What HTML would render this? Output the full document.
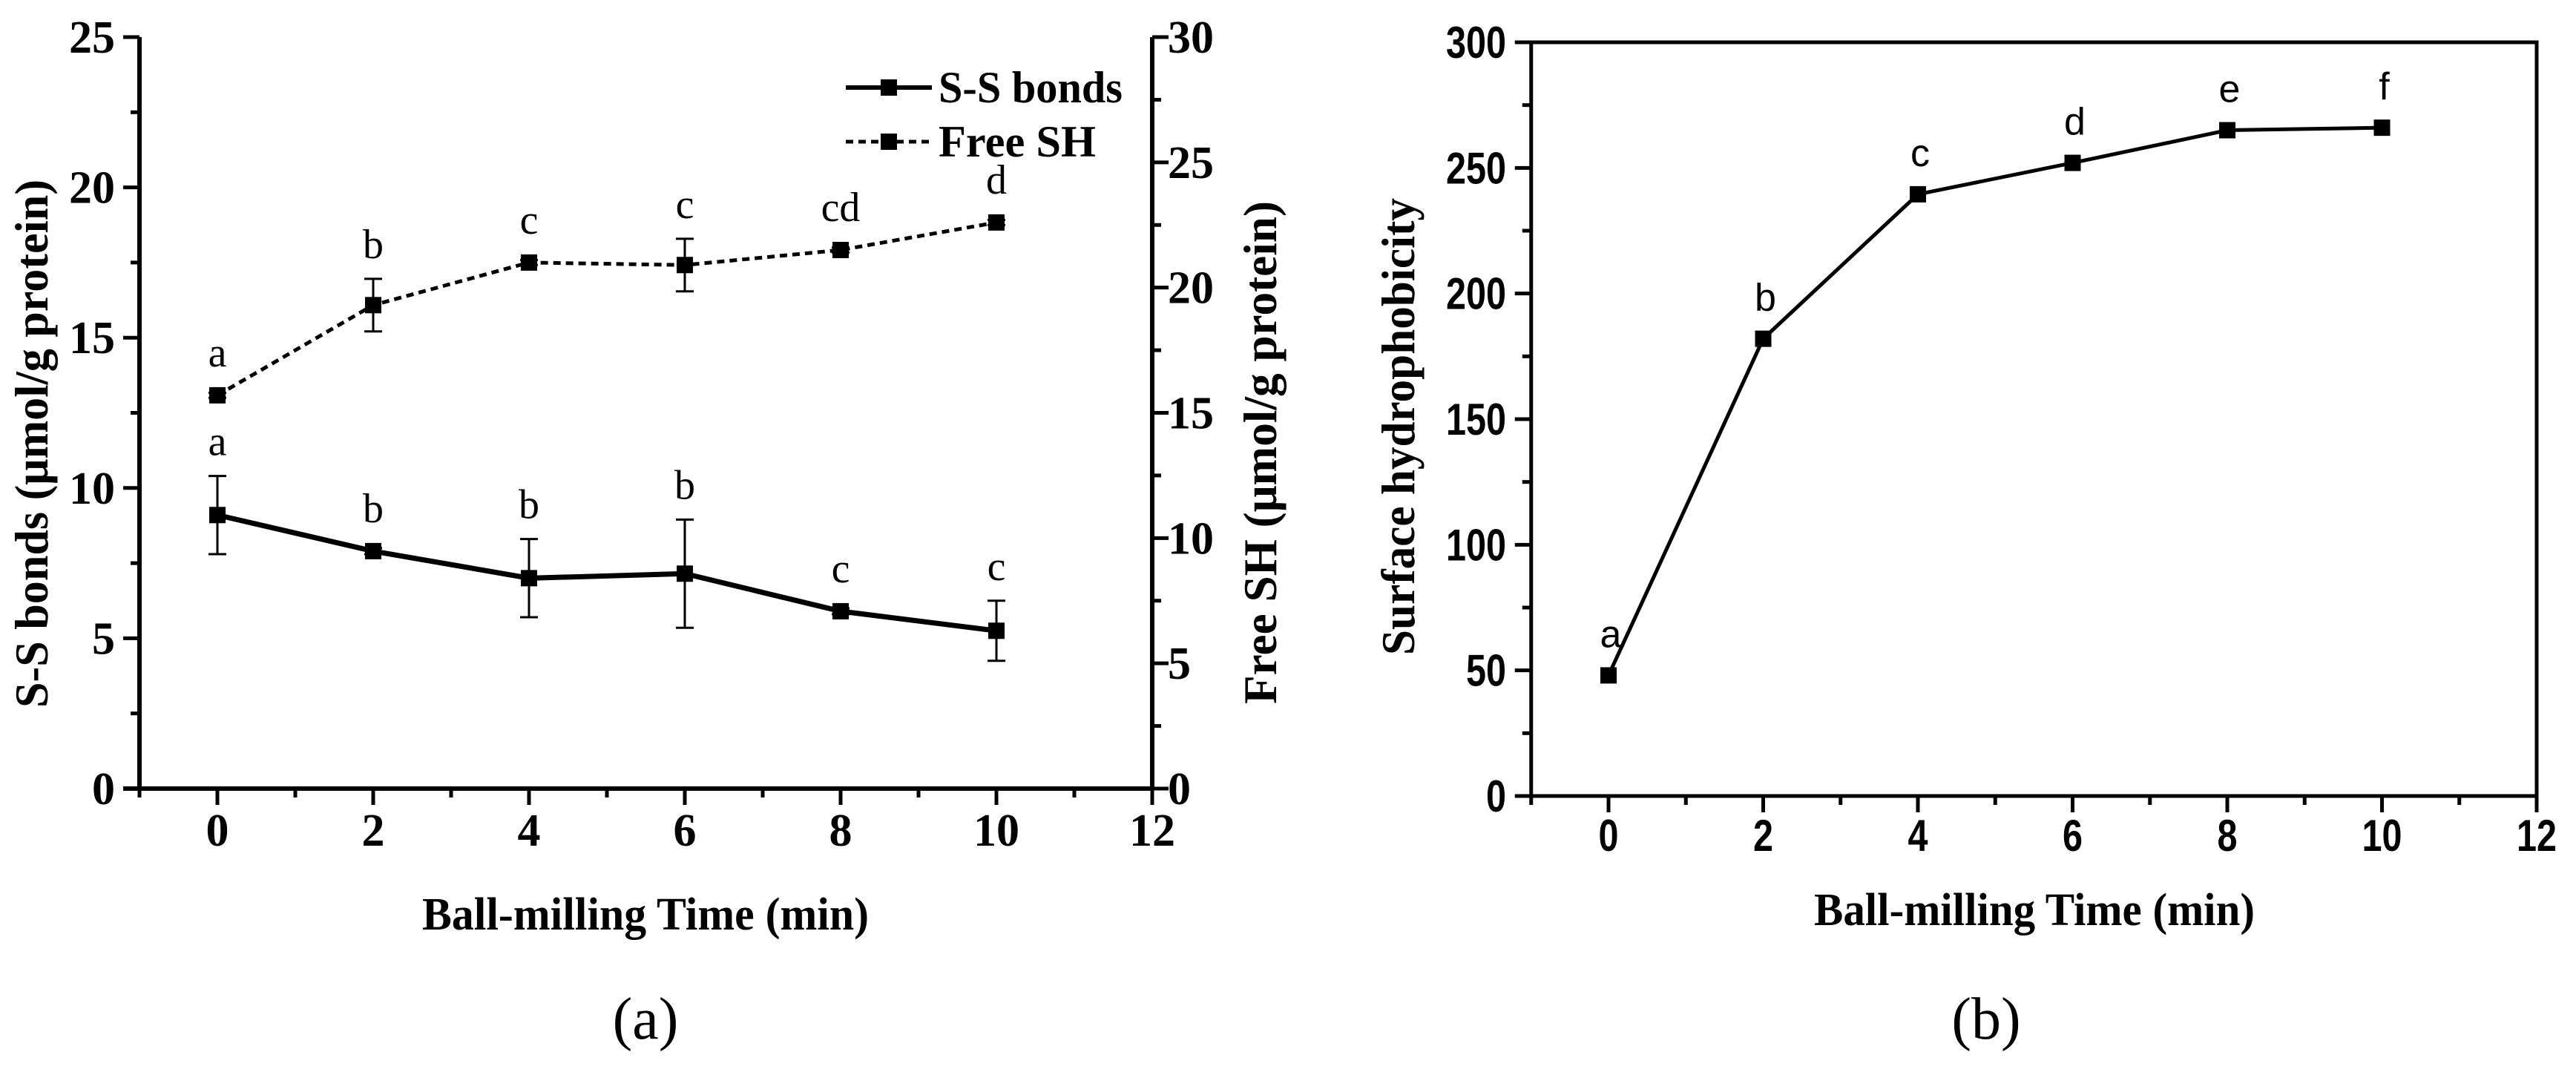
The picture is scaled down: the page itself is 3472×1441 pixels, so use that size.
<!DOCTYPE html>
<html><head><meta charset="utf-8"><style>
html,body{margin:0;padding:0;background:#fff;}
svg{display:block;}
.serif{font-family:"Liberation Serif",serif;}
.sans{font-family:"Liberation Sans",sans-serif;}
</style></head><body>
<svg id="fig" width="3472" height="1441" viewBox="0 0 3472 1441" xmlns="http://www.w3.org/2000/svg">
<rect width="3472" height="1441" fill="#fff"/>
<g id="pa"></g>
<g id="pb"></g>
</svg>
<script>
// ---- Panel A data ----
const timesA = [0, 2, 4, 6, 8, 10];
const ssValues = [9.1, 7.9, 7.0, 7.15, 5.9, 5.25];
const ssErrors = [1.3, 0.1, 1.3, 1.8, 0.1, 1.0];
const ssLetters = ["a", "b", "b", "b", "c", "c"];
const shValues = [15.7, 19.3, 21.0, 20.9, 21.5, 22.6];
const shErrors = [0.1, 1.05, 0.1, 1.05, 0.1, 0.1];
const shLetters = ["a", "b", "c", "c", "cd", "d"];
const xTicksA = [0, 2, 4, 6, 8, 10, 12];
const yLeftTicks = [0, 5, 10, 15, 20, 25];
const yRightTicks = [0, 5, 10, 15, 20, 25, 30];
// ---- Panel B data ----
const timesB = [0, 2, 4, 6, 8, 10];
const hydroValues = [48, 182, 239.5, 252, 265, 266];
const hydroLetters = ["a", "b", "c", "d", "e", "f"];
const xTicksB = [0, 2, 4, 6, 8, 10, 12];
const yTicksB = [0, 50, 100, 150, 200, 250, 300];

const NS = "http://www.w3.org/2000/svg";
function mk(parent, tag, attrs, text) {
  const e = document.createElementNS(NS, tag);
  for (const k in attrs) e.setAttribute(k, attrs[k]);
  if (text !== undefined) e.textContent = text;
  parent.appendChild(e);
  return e;
}

// ===== Panel A =====
const pa = document.getElementById('pa');
const axA = {x0: 293, xs: 105, y0: 1063, ys: (1063 - 50) / 25};
const xA = v => axA.x0 + axA.xs * v;
const yL = v => axA.y0 - axA.ys * v;
const yR = v => axA.y0 - (1063 - 50) / 30 * v;
const leftA = xA(-1), rightA = xA(12);

let e;
e = mk(pa, 'line', {x1: leftA, y1: 50, x2: leftA, y2: 1063, stroke: '#000', 'stroke-width': 6});
 
e = mk(pa, 'line', {x1: rightA, y1: 50, x2: rightA, y2: 1063, stroke: '#000', 'stroke-width': 6});
 
e = mk(pa, 'line', {x1: leftA - 22, y1: 1063, x2: rightA, y2: 1063, stroke: '#000', 'stroke-width': 6});
 

for (let v = -1; v <= 12; v++) {
  const major = xTicksA.includes(v);
  e = mk(pa, 'line', {x1: xA(v), y1: 1063, x2: xA(v), y2: 1063 + (major ? 22 : 12), stroke: '#000', 'stroke-width': 5});
   
}
xTicksA.forEach(v => {
  e = mk(pa, 'text', {x: xA(v), y: 1140, 'text-anchor': 'middle', class: 'serif', 'font-size': 62, 'font-weight': 'bold'}, String(v));
   
});
for (let v = 0; v <= 25; v += 2.5) {
  const major = yLeftTicks.includes(v);
  e = mk(pa, 'line', {x1: leftA - (major ? 22 : 12), y1: yL(v), x2: leftA, y2: yL(v), stroke: '#000', 'stroke-width': 5});
   
}
yLeftTicks.forEach(v => {
  e = mk(pa, 'text', {x: 155, y: yL(v) + 21, 'text-anchor': 'end', class: 'serif', 'font-size': 62, 'font-weight': 'bold'}, String(v));
   
});
for (let v = 0; v <= 30; v += 2.5) {
  const major = yRightTicks.includes(v);
  e = mk(pa, 'line', {x1: rightA, y1: yR(v), x2: rightA + (major ? 22 : 12), y2: yR(v), stroke: '#000', 'stroke-width': 5});
   
}
yRightTicks.forEach(v => {
  e = mk(pa, 'text', {x: 1574, y: yR(v) + 21, 'text-anchor': 'start', class: 'serif', 'font-size': 62, 'font-weight': 'bold'}, String(v));
   
});

e = mk(pa, 'polyline', {points: timesA.map((t, i) => xA(t) + ',' + yL(ssValues[i])).join(' '), fill: 'none', stroke: '#000', 'stroke-width': 7});
 
e = mk(pa, 'polyline', {points: timesA.map((t, i) => xA(t) + ',' + yR(shValues[i])).join(' '), fill: 'none', stroke: '#000', 'stroke-width': 5, 'stroke-dasharray': '10,7'});
 

function errBar(g, x, yTop, yBot, name) {
  const grp = mk(g, 'g', {stroke: '#000', 'stroke-width': 3});
   
  mk(grp, 'line', {x1: x, y1: yTop, x2: x, y2: yBot});
  mk(grp, 'line', {x1: x - 12, y1: yTop, x2: x + 12, y2: yTop});
  mk(grp, 'line', {x1: x - 12, y1: yBot, x2: x + 12, y2: yBot});
}
timesA.forEach((t, i) => {
  errBar(pa, xA(t), yL(ssValues[i] + ssErrors[i]), yL(ssValues[i] - ssErrors[i]), 'ss-error-bar');
  errBar(pa, xA(t), yR(shValues[i] + shErrors[i]), yR(shValues[i] - shErrors[i]), 'sh-error-bar');
});
timesA.forEach((t, i) => {
  e = mk(pa, 'rect', {x: xA(t) - 11, y: yL(ssValues[i]) - 11, width: 22, height: 22, fill: '#000'});
   
  e = mk(pa, 'rect', {x: xA(t) - 11, y: yR(shValues[i]) - 11, width: 22, height: 22, fill: '#000'});
   
  e = mk(pa, 'text', {x: xA(t), y: Math.min(yL(ssValues[i] + ssErrors[i]), yL(ssValues[i]) - 11) - 28, 'text-anchor': 'middle', class: 'serif', 'font-size': 56}, ssLetters[i]);
   
  e = mk(pa, 'text', {x: xA(t), y: Math.min(yR(shValues[i] + shErrors[i]), yR(shValues[i]) - 11) - 28, 'text-anchor': 'middle', class: 'serif', 'font-size': 56}, shLetters[i]);
   
});

const lg = mk(pa, 'g', {});
 
e = mk(lg, 'line', {x1: 1140, y1: 118, x2: 1256, y2: 118, stroke: '#000', 'stroke-width': 6});
 
e = mk(lg, 'rect', {x: 1187, y: 107, width: 22, height: 22, fill: '#000'});
 
e = mk(lg, 'text', {x: 1265, y: 138, class: 'serif', 'font-size': 60, 'font-weight': 'bold', textLength: 248, lengthAdjust: 'spacingAndGlyphs'}, 'S-S bonds');
 
e = mk(lg, 'line', {x1: 1140, y1: 191, x2: 1256, y2: 191, stroke: '#000', 'stroke-width': 5, 'stroke-dasharray': '10,7'});
 
e = mk(lg, 'rect', {x: 1187, y: 180, width: 22, height: 22, fill: '#000'});
 
e = mk(lg, 'text', {x: 1265, y: 211, class: 'serif', 'font-size': 60, 'font-weight': 'bold', textLength: 212, lengthAdjust: 'spacingAndGlyphs'}, 'Free SH');
 

e = mk(pa, 'text', {x: 569, y: 1253, class: 'serif', 'font-size': 62, 'font-weight': 'bold', textLength: 602, lengthAdjust: 'spacingAndGlyphs'}, 'Ball-milling Time (min)');
 
e = mk(pa, 'text', {x: 0, y: 0, transform: 'translate(64,598) rotate(-90)', 'text-anchor': 'middle', class: 'serif', 'font-size': 64, 'font-weight': 'bold', textLength: 712, lengthAdjust: 'spacingAndGlyphs'}, 'S-S bonds (μmol/g protein)');
 
e = mk(pa, 'text', {x: 0, y: 0, transform: 'translate(1720,610) rotate(-90)', 'text-anchor': 'middle', class: 'serif', 'font-size': 64, 'font-weight': 'bold', textLength: 678, lengthAdjust: 'spacingAndGlyphs'}, 'Free SH (μmol/g protein)');
 
e = mk(pa, 'text', {x: 870, y: 1400, 'text-anchor': 'middle', class: 'serif', 'font-size': 80}, '(a)');
 

// ===== Panel B =====
const pb = document.getElementById('pb');
const axB = {x0: 2168, xs: 104.25, y0: 1073, ys: (1073 - 57) / 300};
const xB = v => axB.x0 + axB.xs * v;
const yB = v => axB.y0 - axB.ys * v;
const leftB = xB(-1), rightB = xB(12);

e = mk(pb, 'rect', {x: leftB, y: 57, width: rightB - leftB, height: 1073 - 57, fill: 'none', stroke: '#000', 'stroke-width': 5});
 
for (let v = -1; v <= 12; v++) {
  const major = xTicksB.includes(v);
  e = mk(pb, 'line', {x1: xB(v), y1: 1073, x2: xB(v), y2: 1073 + (major ? 22 : 12), stroke: '#000', 'stroke-width': 5});
   
}
xTicksB.forEach(v => {
  e = mk(pb, 'text', {x: xB(v), y: 1147, 'text-anchor': 'middle', class: 'sans', 'font-size': 60, 'font-weight': 'bold', textLength: String(v).length * 27, lengthAdjust: 'spacingAndGlyphs'}, String(v));
   
});
for (let v = 0; v <= 300; v += 25) {
  const major = yTicksB.includes(v);
  e = mk(pb, 'line', {x1: leftB - (major ? 22 : 12), y1: yB(v), x2: leftB, y2: yB(v), stroke: '#000', 'stroke-width': 5});
   
}
yTicksB.forEach(v => {
  e = mk(pb, 'text', {x: 2030, y: yB(v) + 21, 'text-anchor': 'end', class: 'sans', 'font-size': 60, 'font-weight': 'bold', textLength: String(v).length * 27, lengthAdjust: 'spacingAndGlyphs'}, String(v));
   
});
e = mk(pb, 'polyline', {points: timesB.map((t, i) => xB(t) + ',' + yB(hydroValues[i])).join(' '), fill: 'none', stroke: '#000', 'stroke-width': 5});
 
timesB.forEach((t, i) => {
  e = mk(pb, 'rect', {x: xB(t) - 11, y: yB(hydroValues[i]) - 11, width: 22, height: 22, fill: '#000'});
   
  e = mk(pb, 'text', {x: xB(t) + 3, y: yB(hydroValues[i]) - 38, 'text-anchor': 'middle', class: 'sans', 'font-size': 52}, hydroLetters[i]);
   
});
e = mk(pb, 'text', {x: 2445, y: 1247, class: 'serif', 'font-size': 62, 'font-weight': 'bold', textLength: 594, lengthAdjust: 'spacingAndGlyphs'}, 'Ball-milling Time (min)');
 
e = mk(pb, 'text', {x: 0, y: 0, transform: 'translate(1906,575) rotate(-90)', 'text-anchor': 'middle', class: 'serif', 'font-size': 64, 'font-weight': 'bold', textLength: 616, lengthAdjust: 'spacingAndGlyphs'}, 'Surface hydrophobicity');
 
e = mk(pb, 'text', {x: 2677, y: 1400, 'text-anchor': 'middle', class: 'serif', 'font-size': 80}, '(b)');
 
</script>
</body></html>
